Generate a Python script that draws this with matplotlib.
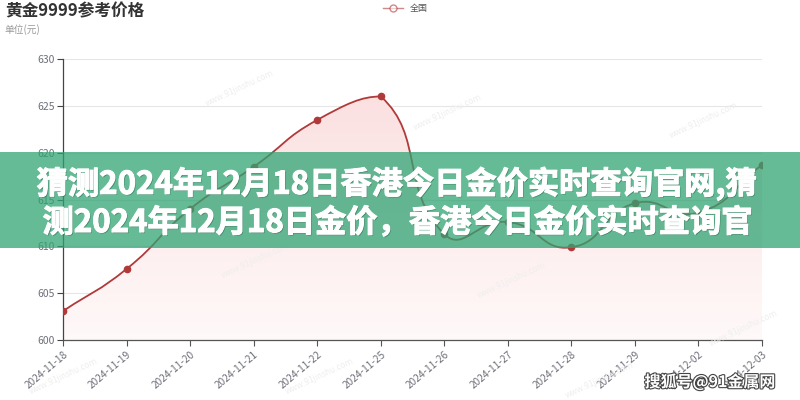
import numpy as np
import matplotlib
matplotlib.use('Agg')
import matplotlib.pyplot as plt
from matplotlib.path import Path
from matplotlib.patches import PathPatch, Rectangle
from matplotlib.colors import LinearSegmentedColormap
import matplotlib.patheffects as pe

plt.rcParams['font.family'] = ['Noto Sans CJK SC', 'DejaVu Sans']

# ---- data ----
dates = ['2024-11-18', '2024-11-19', '2024-11-20', '2024-11-21', '2024-11-22',
         '2024-11-25', '2024-11-26', '2024-11-27', '2024-11-28', '2024-11-29',
         '2024-12-02', '2024-12-03']
prices = [603.1, 607.6, 614.0, 618.5, 623.5, 626.0, 611.3, 612.6, 609.9, 614.6, 613.6, 618.7]
yticks = [600, 605, 610, 615, 620, 625, 630]
series_name = '全国'
title = '黄金9999参考价格'
subtitle = '单位(元)'
banner_lines = ['猜测2024年12月18日香港今日金价实时查询官网,猜',
                '测2024年12月18日金价，香港今日金价实时查询官']
credit = '搜狐号@91金属网'

LINE = '#b03a3a'
AXC = '#6e7079'

fig = plt.figure(figsize=(8, 4), dpi=100)
ax = fig.add_axes([0.079, 0.15, 0.9525 - 0.079, 0.8525 - 0.15])

xs = np.arange(len(dates))
ys = np.array(prices, dtype=float)
ax.set_xlim(0, len(dates) - 1)
ax.set_ylim(yticks[0], yticks[-1])

# smooth bezier path (echarts-like smoothing with constraint, smooth=0.5)
def smooth_path(xv, yv, sx, sy, smooth=0.5):
    px = xv * sx
    py = yv * sy
    n = len(px)
    ymin, ymax = py.min(), py.max()
    xmin, xmax = px.min(), px.max()
    cps = []
    for i in range(n):
        pi = max(i - 1, 0)
        ni = min(i + 1, n - 1)
        vx = px[ni] - px[pi]
        vy = py[ni] - py[pi]
        d0 = np.hypot(px[i] - px[pi], py[i] - py[pi])
        d1 = np.hypot(px[ni] - px[i], py[ni] - py[i])
        s = d0 + d1
        r0 = d0 / s if s else 0
        r1 = d1 / s if s else 0
        cprev = [px[i] - vx * smooth * r0, py[i] - vy * smooth * r0]
        cnext = [px[i] + vx * smooth * r1, py[i] + vy * smooth * r1]
        for c in (cprev, cnext):
            c[0] = min(max(c[0], xmin), xmax)
            c[1] = min(max(c[1], ymin), ymax)
        cps.append((cprev, cnext))
    verts = [(xv[0], yv[0])]
    codes = [Path.MOVETO]
    for i in range(n - 1):
        c1 = cps[i][1]
        c2 = cps[i + 1][0]
        verts += [(c1[0] / sx, c1[1] / sy), (c2[0] / sx, c2[1] / sy), (xv[i + 1], yv[i + 1])]
        codes += [Path.CURVE4] * 3
    return verts, codes

sx = 699.0 / (len(dates) - 1)
sy = 281.0 / (yticks[-1] - yticks[0])
verts, codes = smooth_path(xs.astype(float), ys, sx, sy)

# grid
for t in yticks[1:]:
    ax.axhline(t, color='#e6e6e6', lw=0.8, zorder=0)

# area fill with gradient
fverts = verts + [(xs[-1], yticks[0]), (xs[0], yticks[0]), (xs[0], ys[0])]
fcodes = codes + [Path.LINETO, Path.LINETO, Path.CLOSEPOLY]
fill_patch = PathPatch(Path(fverts, fcodes), facecolor='none', edgecolor='none')
ax.add_patch(fill_patch)
cmap = LinearSegmentedColormap.from_list('g', [(1, 0.975, 0.975), (0.985, 0.88, 0.88)])
grad = np.linspace(0, 1, 256).reshape(-1, 1)
im = ax.imshow(grad, aspect='auto', cmap=cmap, origin='lower',
               extent=[xs[0], xs[-1], yticks[0], max(ys)], zorder=1)
im.set_clip_path(fill_patch)

line_patch = PathPatch(Path(verts, codes), facecolor='none', edgecolor=LINE, lw=1.3, zorder=3)
ax.add_patch(line_patch)
ax.plot(xs, ys, 'o', color=LINE, ms=4.5, zorder=4)

# axes styling
for s in ['top', 'right']:
    ax.spines[s].set_visible(False)
ax.spines['left'].set_color('#444444')
ax.spines['bottom'].set_color('#555555')
ax.spines['left'].set_linewidth(0.9)
ax.spines['bottom'].set_linewidth(0.9)
ax.set_yticks(yticks)
ax.set_yticklabels([str(t) for t in yticks], fontsize=7.5, color=AXC)
ax.set_xticks(xs)
ax.set_xticklabels(dates, rotation=40, ha='right', rotation_mode='anchor', fontsize=7.3, color=AXC)
ax.tick_params(axis='y', length=4, color='#444444', pad=2)
ax.tick_params(axis='x', length=4, color='#555555', pad=3)

# faint watermarks
for (wx, wy) in [(0.30, 0.78), (0.56, 0.72), (0.88, 0.70), (0.32, 0.35), (0.64, 0.30), (0.93, 0.18),
                 (0.08, 0.06), (0.40, 0.06), (0.75, 0.05)]:
    fig.text(wx, wy, 'www.91jinshu.com', rotation=25, fontsize=6, color='#eeeeee',
             ha='center', va='center', zorder=0)

# title, subtitle, legend
fig.text(0.006, 0.972, title, fontsize=12, fontweight='bold', color='#333333', ha='left', va='center')
fig.text(0.006, 0.926, subtitle, fontsize=7, color='#999999', ha='left', va='center')
fig.lines.append(plt.Line2D([0.479, 0.504], [0.98, 0.98], transform=fig.transFigure, color=LINE, lw=1, alpha=0.6))
fig.lines.append(plt.Line2D([0.4915], [0.98], transform=fig.transFigure, marker='o', ms=5,
                            mfc='white', mec=LINE, mew=1, alpha=0.6))
fig.text(0.512, 0.98, series_name, fontsize=6.5, color='#555555', ha='left', va='center')

# banner
fig.patches.append(Rectangle((0, 1 - 248 / 400), 1, 96 / 400, transform=fig.transFigure,
                             facecolor='#30a473', alpha=0.75, edgecolor='none', zorder=5))
bfx = [pe.withSimplePatchShadow(offset=(0.8, -0.8), shadow_rgbFace='#2d6b52', alpha=0.6),
       pe.withStroke(linewidth=0.8, foreground='white')]
fig.text(0.496, 1 - 184 / 400, banner_lines[0], fontsize=22.5, fontweight='black', color='white',
         ha='center', va='center', zorder=6, path_effects=bfx)
fig.text(0.497, 1 - 223 / 400, banner_lines[1], fontsize=22.5, fontweight='black', color='white',
         ha='center', va='center', zorder=6, path_effects=bfx)

# credit
fig.text(0.8875, 1 - 382 / 400, credit, fontsize=11.5, fontweight='bold', color='white',
         ha='center', va='center', zorder=7,
         path_effects=[pe.withStroke(linewidth=1.6, foreground='#444444')])

fig.savefig('out.png', dpi=100)
